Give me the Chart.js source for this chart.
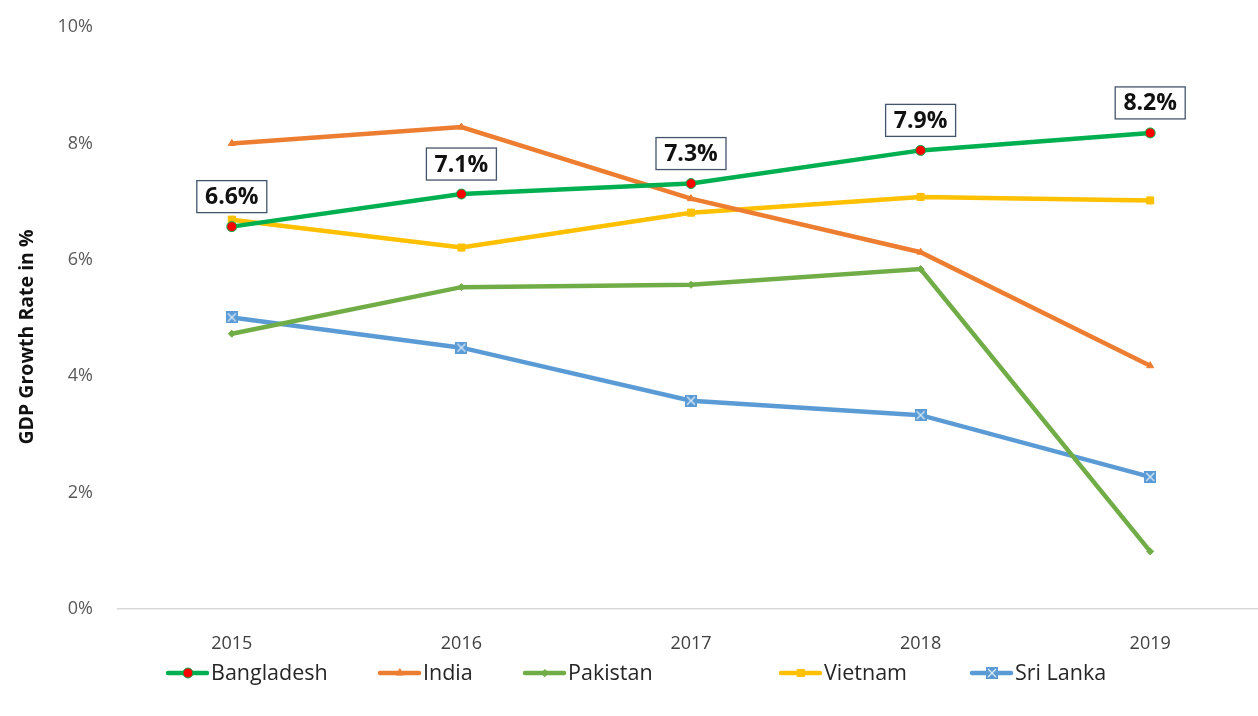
<!DOCTYPE html>
<html>
<head>
<meta charset="utf-8">
<script src="https://cdn.jsdelivr.net/npm/chart.js@4.4.1/dist/chart.umd.min.js"></script>
<style>
  html, body { margin: 0; padding: 0; background: #fff; }
  #wrap { width: 1258px; height: 716px; }
</style>
</head>
<body>
<div id="wrap"><canvas id="gdpChart"></canvas></div>
<script>
(function () {
    "use strict";

    // data
    var years = ["2015", "2016", "2017", "2018", "2019"];
    var bangladesh = [6.57, 7.13, 7.31, 7.88, 8.18];
    var india = [8.0, 8.28, 7.05, 6.13, 4.18];
    var pakistan = [4.73, 5.53, 5.57, 5.84, 0.99];
    var vietnam = [6.69, 6.21, 6.81, 7.08, 7.02];
    var sriLanka = [5.01, 4.49, 3.58, 3.33, 2.27];
    var yTicks = [0, 2, 4, 6, 8, 10];
    var yTitle = "GDP Growth Rate in %";

    var fontFamily = "'Open Sans', 'Noto Sans', sans-serif";

    // boxed X marker for Sri Lanka
    var boxX = document.createElement("canvas");
    boxX.width = 12;
    boxX.height = 12;
    (function () {
        var c = boxX.getContext("2d");
        c.fillStyle = "#5B9BD5";
        c.fillRect(0, 0, 12, 12);
        c.strokeStyle = "#DDEBF7";
        c.lineWidth = 1.2;
        c.beginPath();
        c.moveTo(2, 2); c.lineTo(10, 10);
        c.moveTo(10, 2); c.lineTo(2, 10);
        c.stroke();
    })();

    // plot area in the original runs a bit past the right edge
    var stretchPlugin = {
        id: "stretchX",
        afterLayout: function (chart) {
            var xs = chart.scales.x;
            xs.right = 1265;
            xs.width = xs.right - xs.left;
            xs.configure();
            chart.chartArea.right = 1265;
            chart.chartArea.width = chart.chartArea.right - chart.chartArea.left;
        }
    };

    var titlePlugin = {
        id: "yTitle",
        afterDraw: function (chart) {
            var ctx = chart.ctx;
            ctx.save();
            ctx.translate(27, 337);
            ctx.rotate(-Math.PI / 2);
            ctx.font = "bold 19.5px " + fontFamily;
            ctx.fillStyle = "#111111";
            ctx.textAlign = "center";
            ctx.textBaseline = "middle";
            ctx.fillText(yTitle, 0, 0);
            ctx.restore();
        }
    };

    var labelPlugin = {
        id: "boxLabels",
        afterDatasetsDraw: function (chart) {
            var ctx = chart.ctx;
            var meta = chart.getDatasetMeta(0);
            ctx.save();
            ctx.font = "bold 23px " + fontFamily;
            ctx.textAlign = "center";
            ctx.textBaseline = "middle";
            meta.data.forEach(function (pt, i) {
                var txt = bangladesh[i].toFixed(1) + "%";
                var w = 70, h = 32;
                var cx = pt.x, cy = pt.y - 30;
                ctx.fillStyle = "#ffffff";
                ctx.fillRect(cx - w / 2, cy - h / 2, w, h);
                ctx.strokeStyle = "#44546A";
                ctx.lineWidth = 1.3;
                ctx.strokeRect(cx - w / 2, cy - h / 2, w, h);
                ctx.fillStyle = "#111111";
                ctx.fillText(txt, cx, cy + 1);
            });
            ctx.restore();
        }
    };

    var legendPlugin = {
        id: "lineLegend",
        afterDraw: function (chart) {
            var ctx = chart.ctx;
            var starts = [168, 380, 525, 781, 972];
            var y = 673;
            ctx.save();
            ctx.textBaseline = "middle";
            ctx.textAlign = "left";
            chart.data.datasets.forEach(function (ds, i) {
                var x0 = starts[i];
                ctx.strokeStyle = ds.borderColor;
                ctx.lineWidth = 4.5;
                ctx.lineCap = "round";
                ctx.beginPath();
                ctx.moveTo(x0, y);
                ctx.lineTo(x0 + 39, y);
                ctx.stroke();
                ctx.fillStyle = ds.pointBackgroundColor;
                ctx.strokeStyle = ds.pointBorderColor;
                ctx.lineWidth = 1;
                Chart.helpers.drawPoint(ctx, {
                    pointStyle: ds.pointStyle,
                    radius: ds.pointRadius,
                    borderWidth: 1,
                    rotation: 0
                }, x0 + 20, y);
                ctx.font = "21.5px " + fontFamily;
                ctx.fillStyle = "#262626";
                ctx.fillText(ds.label, x0 + 43, y + 1);
            });
            ctx.restore();
        }
    };

    function series(label, data, color, style, radius, fill, border) {
        return {
            label: label,
            data: data,
            borderColor: color,
            backgroundColor: color,
            borderWidth: 4.5,
            tension: 0,
            pointStyle: style,
            pointRadius: radius,
            pointHoverRadius: radius,
            pointBackgroundColor: fill || color,
            pointBorderColor: border || color,
            pointBorderWidth: 1
        };
    }

    var ctx = document.getElementById("gdpChart").getContext("2d");
    new Chart(ctx, {
        type: "line",
        data: {
            labels: years,
            datasets: [
                series("Bangladesh", bangladesh, "#00B050", "circle", 5, "#FF0000", "#00B050"),
                series("India", india, "#ED7D31", "triangle", 4),
                series("Pakistan", pakistan, "#70AD47", "rectRot", 3.5),
                series("Vietnam", vietnam, "#FFC000", "rect", 5),
                series("Sri Lanka", sriLanka, "#5B9BD5", boxX, 6)
            ]
        },
        options: {
            responsive: true,
            maintainAspectRatio: false,
            animation: false,
            layout: { padding: { top: 27, right: 0, left: 0, bottom: 0 } },
            scales: {
                x: {
                    offset: true,
                    grid: { display: false, drawTicks: false },
                    border: { display: false },
                    ticks: {
                        padding: 24,
                        color: "#404040",
                        font: { size: 18, family: fontFamily }
                    },
                    afterFit: function (scale) {
                        scale.height = 107;
                        scale.paddingLeft = 0;
                        scale.paddingRight = 0;
                    }
                },
                y: {
                    min: 0,
                    max: 10,
                    afterBuildTicks: function (scale) {
                        scale.ticks = yTicks.map(function (v) { return { value: v }; });
                    },
                    grid: {
                        drawTicks: false,
                        lineWidth: 1.5,
                        color: function (c) { return c.tick && c.tick.value === 0 ? "#D9D9D9" : "rgba(0,0,0,0)"; }
                    },
                    border: { display: false },
                    ticks: {
                        padding: 24,
                        color: "#595959",
                        font: { size: 18, family: fontFamily },
                        callback: function (v) { return v + "%"; }
                    },
                    afterFit: function (scale) {
                        scale.width = 117;
                        scale.paddingTop = 0;
                        scale.paddingBottom = 0;
                    }
                }
            },
            plugins: {
                legend: { display: false },
                tooltip: { enabled: false }
            }
        },
        plugins: [stretchPlugin, titlePlugin, labelPlugin, legendPlugin]
    });
})();
</script>
</body>
</html>
